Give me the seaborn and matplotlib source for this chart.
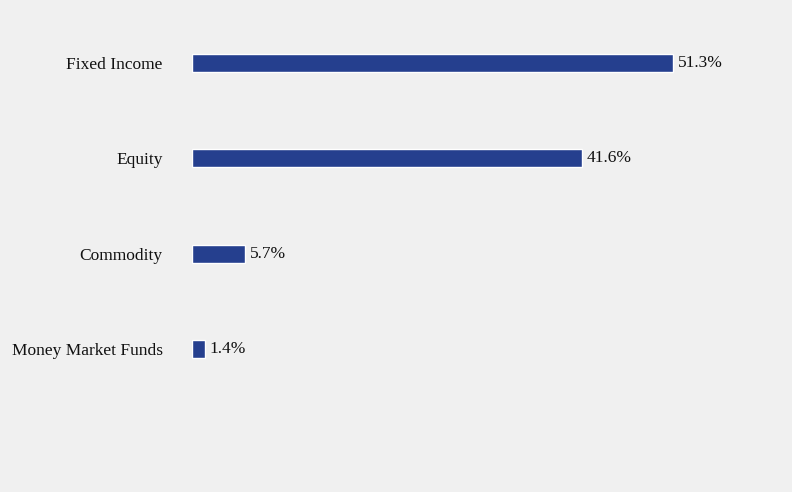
import matplotlib
matplotlib.use("Agg")
import matplotlib.pyplot as plt
import seaborn as sns
import pandas as pd

categories = ["Fixed Income", "Equity", "Commodity", "Money Market Funds"]
values = [51.3, 41.6, 5.7, 1.4]
labels = ["51.3%", "41.6%", "5.7%", "1.4%"]

sns.set_style("white")
plt.rcParams['font.family'] = ['Liberation Serif', 'DejaVu Serif']

df = pd.DataFrame({"cat": categories, "val": values})
fig = plt.figure(figsize=(7.92, 4.92), dpi=100, facecolor="#f0f0f0")
ax = fig.add_axes([192/792, 0, 600/792, 1])
ax.set_facecolor("#f0f0f0")
sns.barplot(data=df, y="cat", x="val", color="#253f8e", width=0.19, saturation=1, ax=ax)
ax.set_xlim(0, 600/9.376)
ax.set_ylim(4.50, -0.661)
for i, (v, l) in enumerate(zip(values, labels)):
    ax.text(v + 0.5, i, l, va="center", ha="left", fontsize=12.5, color="#111111")
ax.set_xlabel("")
ax.set_ylabel("")
ax.set_xticks([])
ax.tick_params(axis="y", length=0, labelsize=12.5, pad=21, colors="#111111")
for s in ax.spines.values():
    s.set_visible(False)
fig.savefig("out.png", dpi=100, facecolor="#f0f0f0")
